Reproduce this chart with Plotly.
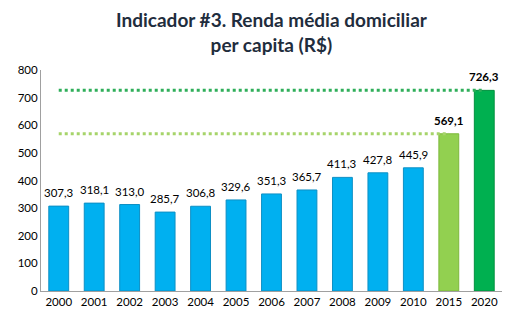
import plotly.graph_objects as go

years = ["2000", "2001", "2002", "2003", "2004", "2005", "2006", "2007", "2008", "2009", "2010", "2015", "2020"]
values = [307.3, 318.1, 313.0, 285.7, 306.8, 329.6, 351.3, 365.7, 411.3, 427.8, 445.9, 569.1, 726.3]
labels = ["307,3", "318,1", "313,0", "285,7", "306,8", "329,6", "351,3", "365,7", "411,3", "427,8", "445,9", "569,1", "726,3"]
bar_colors = ["#00b0f0"] * 11 + ["#92d050", "#00b050"]
line_colors = ["#0d8fc4"] * 11 + ["#7cb83a", "#00913f"]
bold = [False] * 11 + [True, True]

FONT = "Lato, Open Sans, sans-serif"

fig = go.Figure()
fig.add_trace(go.Bar(
    x=years, y=values, width=0.56,
    marker=dict(color=bar_colors, line=dict(color=line_colors, width=1)),
    showlegend=False, hoverinfo="skip",
))

# dotted reference lines at the 2015 and 2020 targets
fig.add_trace(go.Scatter(
    x=[years[0], years[11]], y=[values[11], values[11]], mode="lines",
    line=dict(color="#a6d46a", width=3, dash="dot"), showlegend=False, hoverinfo="skip",
))
fig.add_trace(go.Scatter(
    x=[years[0], years[12]], y=[values[12], values[12]], mode="lines",
    line=dict(color="#2fae5a", width=3, dash="dot"), showlegend=False, hoverinfo="skip",
))

# value labels (category axis annotations use the category index)
for i, (v, lab, b) in enumerate(zip(values, labels, bold)):
    fig.add_annotation(
        x=i, y=v, text=("<b>%s</b>" % lab) if b else lab,
        showarrow=False, yanchor="bottom", yshift=5,
        font=dict(family=FONT, size=11.5, color="#000000"),
    )

fig.add_annotation(
    text="<b>Indicador #3. Renda média domiciliar<br>per capita (R$)</b>",
    xref="paper", yref="paper", x=0.5, y=1.17, xanchor="center", yanchor="middle",
    showarrow=False, align="center",
    font=dict(family=FONT, size=19, color="#1f2d3d"),
)

fig.update_layout(
    width=514, height=325,
    margin=dict(l=41, r=12, t=70, b=34),
    paper_bgcolor="white", plot_bgcolor="white",
    font=dict(family=FONT, size=11.5, color="#000000"),
    bargap=0.44,
)
fig.update_xaxes(
    type="category", showline=True, linecolor="#a0a0a0", linewidth=1,
    ticks="", showgrid=False, tickfont=dict(size=11.5, color="#000000"),
    range=[-0.5, 12.5],
)
fig.update_yaxes(
    range=[0, 800], dtick=100, showline=True, linecolor="#a0a0a0", linewidth=1,
    showgrid=False, ticks="", zeroline=False, tickfont=dict(size=11.5, color="#000000"),
)

fig.write_html("out.html")
